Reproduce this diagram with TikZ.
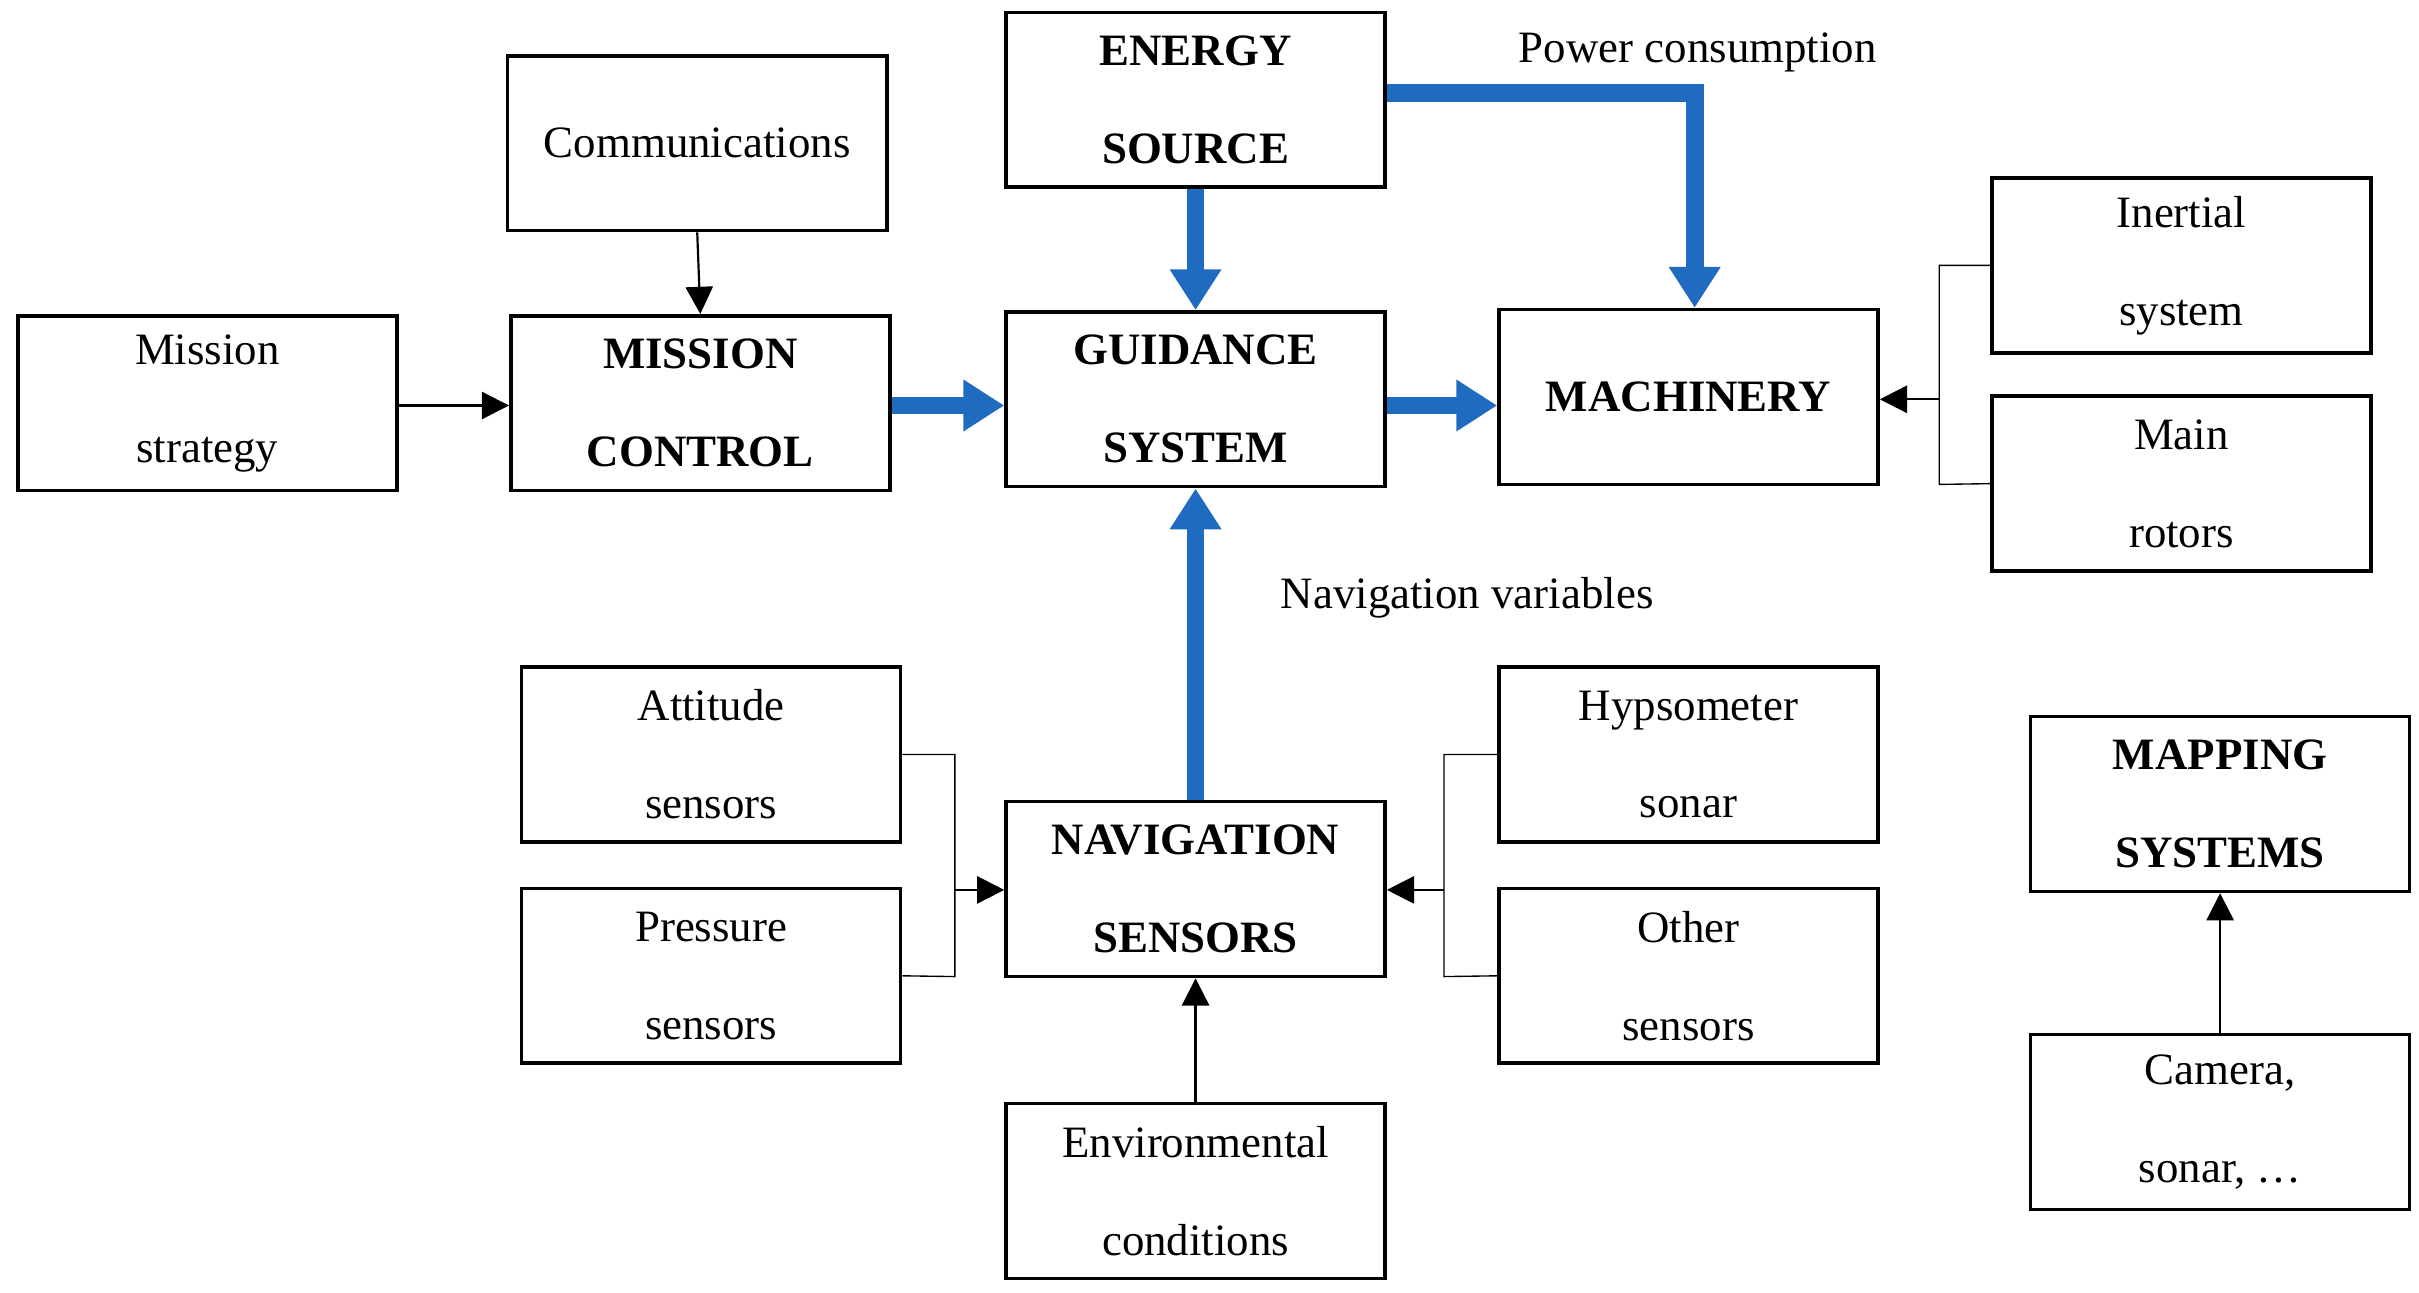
\documentclass[tikz,border=0pt]{standalone}
\usepackage{fontspec}
\setmainfont{Liberation Serif}
\usetikzlibrary{arrows.meta}
\definecolor{fb}{HTML}{1F6BBF}
\begin{document}
\begin{tikzpicture}[x=0.02cm,y=-0.02cm,
 box/.style={draw,line width=1.3pt,minimum width=4.9cm,minimum height=2.26cm,inner sep=0pt,align=center,font=\fontsize{16.5}{36}\selectfont},
 bb/.style={box,font=\fontsize{16.5}{36}\selectfont\bfseries},
 big/.style={draw=fb,line width=6.5pt,-{Triangle[width=18pt,length=15pt]}},
 thin/.style={line width=0.8pt,-{Triangle[width=10pt,length=10pt]}},
 br/.style={line width=0.5pt}]
\useasboundingbox (0,0) rectangle (1563,835);
\node[box] (com) at (450.5,92.5) {Communications};
\node[bb] (en) at (772.5,64.5) {ENERGY\\SOURCE};
\node[box] (ms) at (134,260.5) {Mission\\strategy};
\node[bb] (mc) at (452.5,260.5) {MISSION\\CONTROL};
\node[bb] (gs) at (772.5,258) {GUIDANCE\\SYSTEM};
\node[bb] (ma) at (1091,256.5) {MACHINERY};
\node[box] (in) at (1409.5,171.5) {Inertial\\system};
\node[box] (mr) at (1409.5,312.5) {Main\\rotors};
\node[box] (at) at (459.5,487.5) {Attitude\\sensors};
\node[box] (pr) at (459.5,630.5) {Pressure\\sensors};
\node[bb] (ns) at (772.5,574.5) {NAVIGATION\\SENSORS};
\node[box] (hy) at (1091,487.5) {Hypsometer\\sonar};
\node[box] (ot) at (1091,630.5) {Other\\sensors};
\node[bb] (mp) at (1434.5,519.5) {MAPPING\\SYSTEMS};
\node[box] (ca) at (1434.5,725) {Camera,\\sonar, \dots};
\node[box] (ev) at (772.5,769.5) {Environmental\\conditions};
\node[font=\fontsize{16.5}{18}\selectfont] (pc) at (1097,34) {Power consumption};
\node[font=\fontsize{16.5}{18}\selectfont] (nv) at (948,386) {Navigation variables};
% big arrows
\draw[big] (en.south) -- (gs.north);
\draw[big] (en.east |- 0,60) -| (ma.north -| 1095,0);
\draw[big] (mc.east |- 0,262) -- (gs.west |- 0,262);
\draw[big] (gs.east |- 0,262) -- (ma.west |- 0,262);
\draw[big] (ns.north) -- (gs.south);
% thin arrows
\draw[thin] (com.south) -- (mc.north);
\draw[thin] (ms.east |- 0,262) -- (mc.west |- 0,262);
\coordinate (b1) at (1253,258);
\draw[br] (in.west) -| (1253,313) -- (mr.west);
\draw[thin] (b1) -- (ma.east |- b1);
\coordinate (b2) at (617,575);
\draw[br] (at.east) -| (617,631) -- (pr.east);
\draw[thin] (b2) -- (ns.west |- b2);
\coordinate (b3) at (933,575);
\draw[br] (hy.west) -| (933,631) -- (ot.west);
\draw[thin] (b3) -- (ns.east |- b3);
\draw[thin] (ev.north) -- (ns.south);
\draw[thin] (ca.north) -- (mp.south);
\end{tikzpicture}
\end{document}
